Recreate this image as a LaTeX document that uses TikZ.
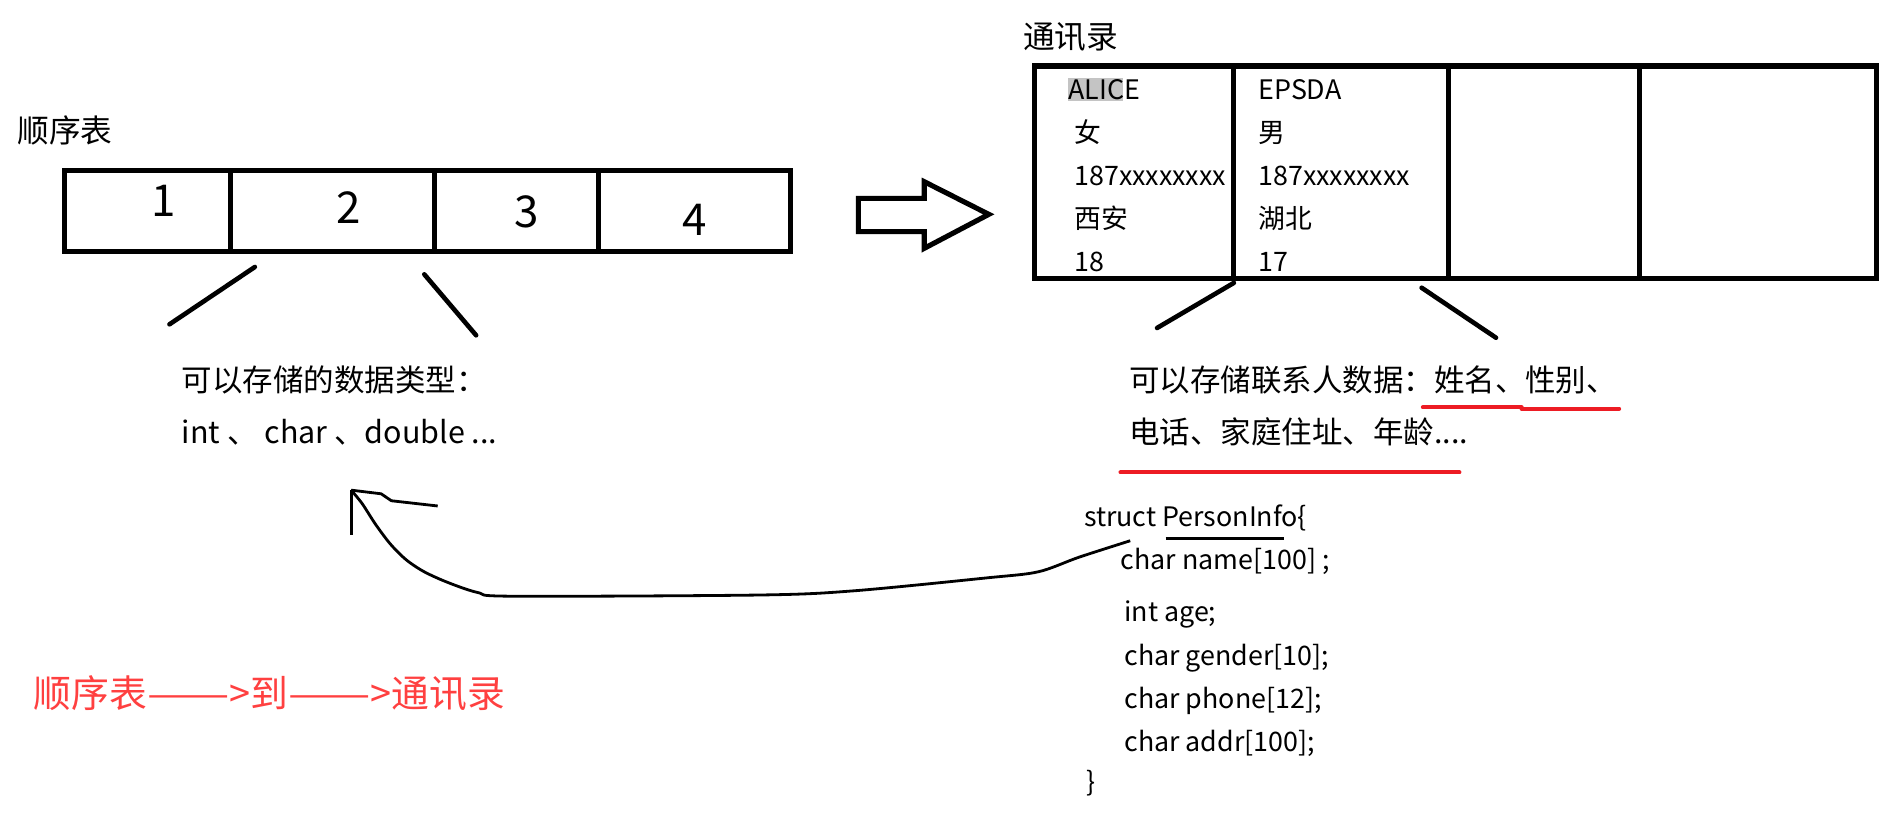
\documentclass[tikz,border=0pt]{standalone}
\usepackage{fontspec}
\setmainfont{Noto Sans CJK SC}
\definecolor{paintred}{HTML}{ED1C24}
\definecolor{notered}{HTML}{FF4040}
\definecolor{selgray}{HTML}{C4C4C4}
\newcommand{\longdash}{\scalebox{1.3}[1]{——}}
\tikzset{
	cellbox/.style={draw,line width=4.2pt,inner sep=0pt,outer sep=0pt,anchor=north west},
	titletext/.style={inner sep=0pt,anchor=base west,font=\fontsize{26}{30}\selectfont},
	cntext/.style={inner sep=0pt,anchor=base west,font=\fontsize{25}{30}\selectfont},
	celltext/.style={inner sep=0pt,anchor=base west,font=\fontsize{22}{26}\selectfont},
	codetext/.style={inner sep=0pt,anchor=base west,font=\fontsize{22}{26}\selectfont},
	digittext/.style={inner sep=0pt,font=\fontsize{36}{40}\selectfont},
	penline/.style={line width=3.8pt,line cap=round},
	redline/.style={line width=3.3pt,color=paintred,line cap=round}
}

\begin{document}
\begin{tikzpicture}[x=1pt,y=-1pt]
	\path[fill=white,use as bounding box] (0,0) rectangle (1560,672);

	\node[titletext] (seqtitle) at (14,116.5) {顺序表};
	\node[cellbox,minimum width=136.7pt,minimum height=67pt] (s1) at (52.6,139.5) {};
	\node[cellbox,minimum width=167.2pt,minimum height=67pt] (s2) at (189.3,139.5) {};
	\node[cellbox,minimum width=134.5pt,minimum height=67pt] (s3) at (356.5,139.5) {};
	\node[cellbox,minimum width=157pt,minimum height=67pt] (s4) at (491,139.5) {};
	\node[digittext] (d1) at (134.6,165) {1};
	\node[digittext] (d2) at (286,170) {2};
	\node[digittext] (d3) at (432,174) {3};
	\node[digittext] (d4) at (570,180) {4};

	\coordinate (sl1) at (209,219);
	\coordinate (sl2) at (139,266);
	\coordinate (sr1) at (348,225);
	\coordinate (sr2) at (390.5,275);
	\draw[penline] (sl1) -- (sl2);
	\draw[penline] (sr1) -- (sr2);

	\node[cntext] (seqinfo1) at (149,321) {可以存储的数据类型：};
	\node[cntext] (seqinfo2) at (149,363.5) {int 、 char 、double ...};

	\draw[line width=4.2pt,line join=miter] (704,162.7) -- (758,162.7) -- (758,149) -- (811,175.8) -- (758,203.7) -- (758,190) -- (704,190) -- cycle;

	\node[titletext] (booktitle) at (839,39.5) {通讯录};
	\node[cellbox,minimum width=162.7pt,minimum height=174.2pt] (b1) at (848.8,54.1) {};
	\node[cellbox,minimum width=176.5pt,minimum height=174.2pt] (b2) at (1011.5,54.1) {};
	\node[cellbox,minimum width=157pt,minimum height=174.2pt] (b3) at (1188,54.1) {};
	\node[cellbox,minimum width=193.8pt,minimum height=174.2pt] (b4) at (1345,54.1) {};

	\fill[selgray] (876,64) rectangle (921,83);
	\node[celltext] (a1) at (876,81.5) {ALICE};
	\node[celltext] (a2) at (881,116.8) {女};
	\node[celltext] (a3) at (881,152.1) {187xxxxxxxx};
	\node[celltext] (a4) at (881,187.4) {西安};
	\node[celltext] (a5) at (881,222.7) {18};
	\node[celltext] (e1) at (1032,81.5) {EPSDA};
	\node[celltext] (e2) at (1032,116.8) {男};
	\node[celltext] (e3) at (1032,152.1) {187xxxxxxxx};
	\node[celltext] (e4) at (1032,187.4) {湖北};
	\node[celltext] (e5) at (1032,222.7) {17};

	\coordinate (bl1) at (1012,232);
	\coordinate (bl2) at (949,269);
	\coordinate (br1) at (1166,236);
	\coordinate (br2) at (1227,277);
	\draw[penline] (bl1) -- (bl2);
	\draw[penline] (br1) -- (br2);

	\node[cntext] (bookinfo1) at (926,321) {可以存储联系人数据：姓名、性别、};
	\node[cntext] (bookinfo2) at (926,363.5) {电话、家庭住址、年龄....};
	\draw[redline] (1167,334) -- (1248,334);
	\draw[redline] (1248,335.3) -- (1328,335.3);
	\draw[redline] (919,387.5) -- (1197,387.5);

	\node[codetext] (c0) at (889,431.8) {struct PersonInfo\{};
	\node[codetext] (c1) at (919,467.4) {char name[100] ;};
	\node[codetext] (c2) at (922,509.8) {int age;};
	\node[codetext] (c3) at (922,546) {char gender[10];};
	\node[codetext] (c4) at (922,580.9) {char phone[12];};
	\node[codetext] (c5) at (922,616.4) {char addr[100];};
	\node[codetext] (c6) at (891,649.5) {\}};
	\draw[line width=2pt] (956,441.6) -- (1053,441.6);

	\coordinate (curvestart) at (927,443.5);
	\coordinate (tip) at (288,402);
	\draw[line width=2.3pt,line join=round] plot[smooth,tension=0.5] coordinates {(curvestart) (885,457) (851.5,469) (809,474) (700,484.6) (624,488) (420,489) (392,486) (368,478) (348,469) (333,459) (320,446) (308,430) (297,413) (tip)};
	\draw[line width=2.3pt,line join=round] (tip) -- (312.6,405) -- (321,410.7) -- (359,415);
	\draw[line width=2.3pt] (tip) -- (288,439);

	\node[inner sep=0pt,anchor=base west,font=\fontsize{31}{36}\selectfont,text=notered] (route) at (27.5,580.6) {顺序表\longdash>到\longdash>通讯录};
\end{tikzpicture}
\end{document}
